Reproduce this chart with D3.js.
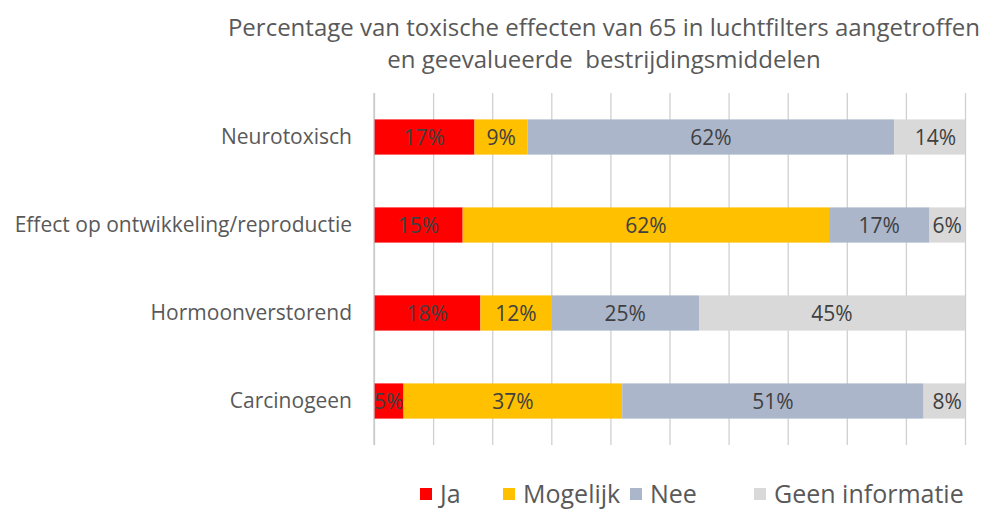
<!DOCTYPE html>
<html>
<head>
<meta charset="utf-8">
<script src="https://cdn.jsdelivr.net/npm/d3@7"></script>
<style>
  body { margin: 0; background: #fff; }
  text { font-family: "Open Sans", "Noto Sans", sans-serif; }
</style>
</head>
<body>
<div id="chart"></div>
<script>
// categories top to bottom
var categories = ['Neurotoxisch', 'Effect op ontwikkeling/reproductie', 'Hormoonverstorend', 'Carcinogeen'];
var seriesNames = ['Ja', 'Mogelijk', 'Nee', 'Geen informatie'];
var ja = [17, 15, 18, 5];
var mogelijk = [9, 62, 12, 37];
var nee = [62, 17, 25, 51];
var geenInfo = [14, 6, 45, 8];
var gridTicks = [0, 10, 20, 30, 40, 50, 60, 70, 80, 90, 100];
var titleLines = ['Percentage van toxische effecten van 65 in luchtfilters aangetroffen',
                  'en geevalueerde  bestrijdingsmiddelen'];

var colors = ['#ff0000', '#ffc000', '#abb6cb', '#d9d9d9'];

var rows = categories.map(function(c, i) {
  return {cat: c, 'Ja': ja[i], 'Mogelijk': mogelijk[i], 'Nee': nee[i], 'Geen informatie': geenInfo[i]};
});

var width = 990, height = 510;
var margin = {top: 93, right: 25, bottom: 65, left: 374};

var svg = d3.select('#chart').append('svg')
  .attr('width', width)
  .attr('height', height);

svg.append('rect').attr('width', width).attr('height', height).attr('fill', '#fff');

// stacked, axis stops at 100 so rows summing over 100 get cut
var stack = d3.stack().keys(seriesNames);
var layers = stack(rows);

var x = d3.scaleLinear().domain([0, 100]).range([margin.left, width - margin.right]);
var y = d3.scaleBand().domain(categories)
  .range([margin.top, height - margin.bottom])
  .paddingInner(0.6).paddingOuter(0.3);

svg.append('clipPath').attr('id', 'plotClip')
  .append('rect')
  .attr('x', x(0)).attr('y', margin.top)
  .attr('width', x(100) - x(0))
  .attr('height', height - margin.bottom - margin.top);

// gridlines
svg.append('g')
  .attr('transform', 'translate(0,' + (height - margin.bottom) + ')')
  .call(d3.axisBottom(x).tickValues(gridTicks).tickSize(-(height - margin.bottom - margin.top)).tickFormat(''))
  .call(function(g) {
    g.select('.domain').remove();
    g.selectAll('.tick line').attr('stroke', '#d0d0d0').attr('stroke-width', 1.3);
  });

// bars
var layer = svg.selectAll('g.layer')
  .data(layers)
  .enter().append('g')
  .attr('class', 'layer')
  .attr('fill', function(d, i) { return colors[i]; });

layer.selectAll('rect')
  .data(function(d) { return d; })
  .enter().append('rect')
  .attr('clip-path', 'url(#plotClip)')
  .attr('x', function(d) { return x(d[0]); })
  .attr('width', function(d) { return x(d[1]) - x(d[0]); })
  .attr('y', function(d) { return y(d.data.cat); })
  .attr('height', y.bandwidth());

// data labels
layer.selectAll('text')
  .data(function(d) { return d.map(function(p) { return {p: p, key: d.key}; }); })
  .enter().append('text')
  .attr('x', function(d) { return (x(d.p[0]) + x(d.p[1])) / 2; })
  .attr('y', function(d) { return y(d.p.data.cat) + y.bandwidth() / 2; })
  .attr('dy', '0.36em')
  .attr('text-anchor', 'middle')
  .attr('fill', '#404040')
  .attr('font-size', 21)
  .text(function(d) { return d.p.data[d.key] + '%'; });

// y axis
svg.append('g')
  .attr('transform', 'translate(' + margin.left + ',0)')
  .call(d3.axisLeft(y).tickSize(0).tickPadding(22))
  .call(function(g) {
    g.select('.domain').attr('stroke', '#c8c8c8').attr('stroke-width', 1.3)
      .attr('d', 'M0,' + margin.top + 'V' + (height - margin.bottom));
    g.selectAll('.tick text')
      .attr('font-size', 21)
      .attr('fill', '#595959')
      .style('font-family', '"Open Sans", sans-serif');
  });

// title
var title = svg.append('g');
titleLines.forEach(function(t, i) {
  title.append('text')
    .attr('x', 604)
    .attr('y', 36 + i * 32)
    .attr('text-anchor', 'middle')
    .attr('font-size', 24)
    .attr('fill', '#595959')
    .style('white-space', 'pre')
    .text(t);
});

// legend
var legendX = [420, 503, 630, 754];
var legend = svg.append('g')
  .selectAll('g')
  .data(seriesNames)
  .enter()
  .append('g')
  .attr('transform', function(d, i) { return 'translate(' + legendX[i] + ',488)'; });
legend.append('rect')
  .attr('width', 12)
  .attr('height', 12)
  .attr('fill', function(d, i) { return colors[i]; });
legend.append('text')
  .attr('x', 20)
  .attr('y', 6)
  .attr('dy', '0.36em')
  .attr('font-size', 25)
  .attr('fill', '#595959')
  .text(function(d) { return d; });
</script>
</body>
</html>
